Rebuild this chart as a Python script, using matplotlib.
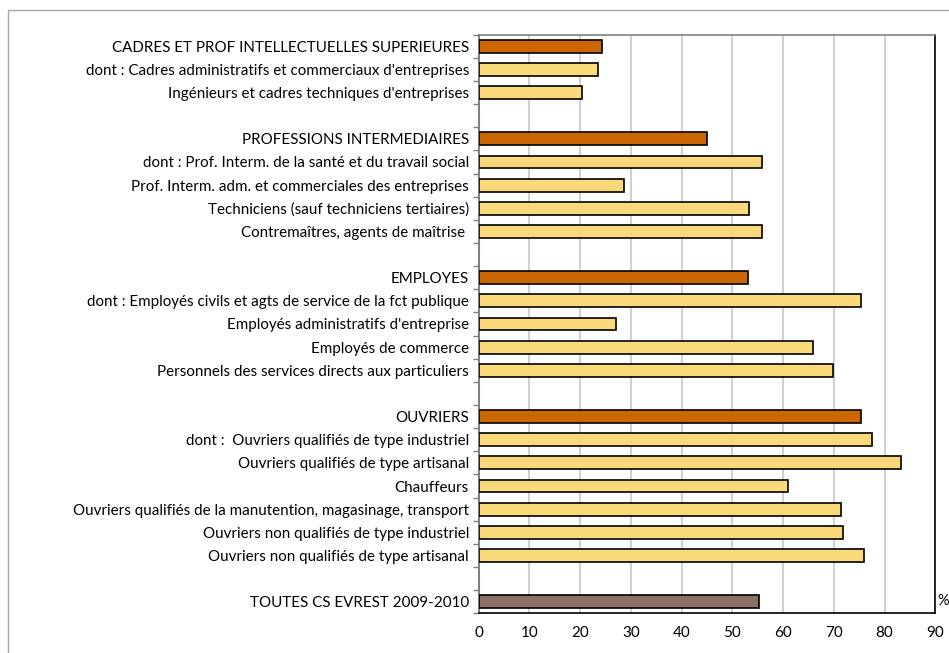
import numpy as np
import matplotlib as mpl
mpl.use('Agg')
from matplotlib import pyplot as plt
from matplotlib.patches import Rectangle

plt.rcParams['font.family'] = ['Lato', 'DejaVu Sans']

# Rows from top to bottom; '' marks a blank spacer row
labels = [
    "CADRES ET PROF INTELLECTUELLES SUPERIEURES",
    "dont : Cadres administratifs et commerciaux d'entreprises",
    "Ingénieurs et cadres techniques d'entreprises",
    "",
    "PROFESSIONS INTERMEDIAIRES",
    "dont : Prof. Interm. de la santé et du travail social",
    "Prof. Interm. adm. et commerciales des entreprises",
    "Techniciens (sauf techniciens tertiaires)",
    "Contremaîtres, agents de maîtrise ",
    "",
    "EMPLOYES",
    "dont : Employés civils et agts de service de la fct publique",
    "Employés administratifs d'entreprise",
    "Employés de commerce",
    "Personnels des services directs aux particuliers",
    "",
    "OUVRIERS",
    "dont :  Ouvriers qualifiés de type industriel",
    "Ouvriers qualifiés de type artisanal",
    "Chauffeurs",
    "Ouvriers qualifiés de la manutention, magasinage, transport",
    "Ouvriers non qualifiés de type industriel",
    "Ouvriers non qualifiés de type artisanal",
    "",
    "TOUTES CS EVREST 2009-2010",
]
values = [
    24.3, 23.6, 20.3, None,
    45.0, 55.8, 28.7, 53.3, 55.9, None,
    53.0, 75.3, 27.1, 65.8, 69.8, None,
    75.3, 77.6, 83.2, 60.9, 71.5, 71.9, 75.9, None,
    55.3,
]
headers = ["CADRES ET PROF INTELLECTUELLES SUPERIEURES", "PROFESSIONS INTERMEDIAIRES",
           "EMPLOYES", "OUVRIERS"]
total_label = "TOUTES CS EVREST 2009-2010"
xticks = [0, 10, 20, 30, 40, 50, 60, 70, 80, 90]

fig = plt.figure(figsize=(9.49, 6.53), dpi=100)
fig.patches.append(Rectangle((8 / 949, -0.1), 1.1, 1 - 10 / 653 + 0.1,
                             transform=fig.transFigure, fill=False,
                             edgecolor='#a6a6a6', linewidth=1.0))
ax = fig.add_axes([478.7 / 949, 1 - 613.3 / 653, 456.6 / 949, 578.6 / 653])

n = len(labels)
y = np.arange(n)
for yi, lab, v in zip(y, labels, values):
    if v is None:
        continue
    if lab in headers:
        color = '#cc6600'
    elif lab == total_label:
        color = '#8c7068'
    else:
        color = '#fad97a'
    ax.barh(yi, v, height=0.55, color=color, edgecolor='black', linewidth=1.2, zorder=3)

ax.set_ylim(n - 0.5, -0.5)
ax.set_xlim(0, 90)
ax.set_xticks(xticks)
ax.set_xticklabels([str(t) for t in xticks], fontsize=11)
ax.tick_params(axis='x', length=0, pad=9)
ax.xaxis.grid(True, color='#c8c8c8', linewidth=1.2, zorder=0)

ax.set_yticks(y)
ax.set_yticklabels(labels, fontsize=10.9)
ax.tick_params(axis='y', length=0, pad=7)
ax.set_yticks(np.arange(-0.5, n, 1), minor=True)
ax.tick_params(axis='y', which='minor', length=4, width=1, color='#808080')

ax.spines['left'].set_color('#808080')
ax.spines['left'].set_linewidth(1.5)
ax.spines['top'].set_color('#808080')
ax.spines['top'].set_linewidth(1.2)
ax.spines['right'].set_color('black')
ax.spines['bottom'].set_color('black')
ax.spines['right'].set_linewidth(1.2)
ax.spines['bottom'].set_linewidth(1.2)

fig.text(937 / 949, 1 - 601 / 653, '%', fontsize=10.5, va='center', ha='left')

fig.savefig('out.png', dpi=100)
